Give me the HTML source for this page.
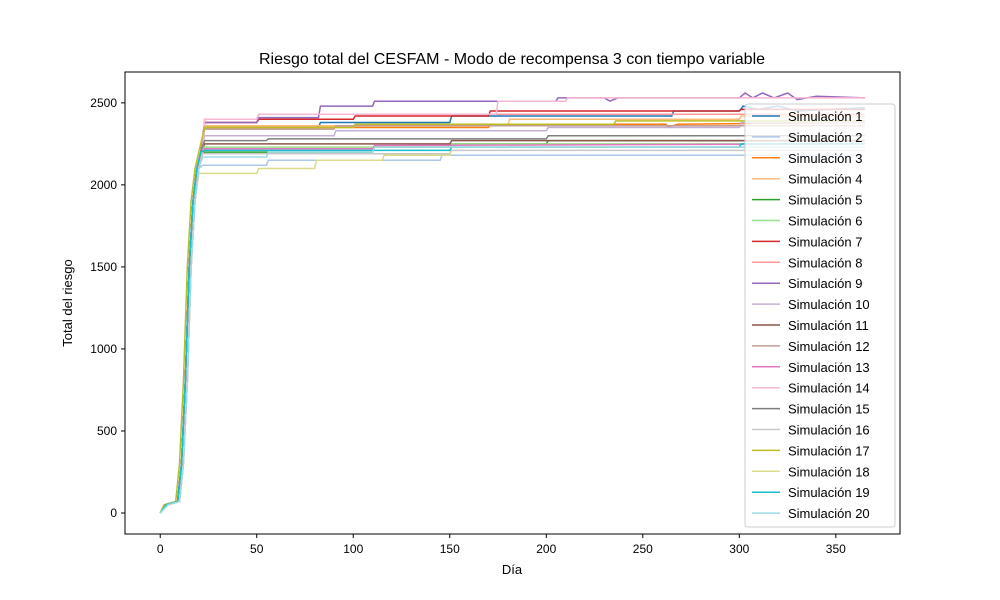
<!DOCTYPE html>
<html><head><meta charset="utf-8">
<style>
body{margin:0;background:#fff;}
svg{display:block;font-family:"Liberation Sans","DejaVu Sans",sans-serif;}
</style></head>
<body>
<svg id="chart" width="1000" height="600" viewBox="0 0 1000 600">
<rect width="1000" height="600" fill="#fff"/>
<text x="512" y="64" font-size="16" text-anchor="middle">Riesgo total del CESFAM - Modo de recompensa 3 con tiempo variable</text>
<g id="lines"></g>
<rect x="125" y="72" width="775" height="462" fill="none" stroke="#000" stroke-width="1"/>
<g id="xticks"></g>
<g id="yticks"></g>
<text x="512" y="574" font-size="13" text-anchor="middle">Día</text>
<text transform="translate(72,303) rotate(-90)" font-size="13" text-anchor="middle">Total del riesgo</text>
<g id="legend"></g>
</svg>
<script>
const xTicks=[0,50,100,150,200,250,300,350];
const yTicks=[0,500,1000,1500,2000,2500];
const seriesNames=["Simulación 1","Simulación 2","Simulación 3","Simulación 4","Simulación 5","Simulación 6","Simulación 7","Simulación 8","Simulación 9","Simulación 10","Simulación 11","Simulación 12","Simulación 13","Simulación 14","Simulación 15","Simulación 16","Simulación 17","Simulación 18","Simulación 19","Simulación 20"];
const colors=["#1f77b4","#aec7e8","#ff7f0e","#ffbb78","#2ca02c","#98df8a","#d62728","#ff9896","#9467bd","#c5b0d5","#8c564b","#c49c94","#e377c2","#f7b6d2","#7f7f7f","#c7c7c7","#bcbd22","#dbdb8d","#17becf","#9edae5"];
const rampDays=[0,3,9,11,13,15,17,19,21,23];
const rampVals=[0,50,70,300,800,1500,1900,2100,2200];
const s1=[[23,2350],[82,2350],[83,2380],[150,2380],[151,2420],[265,2420],[266,2450],[300,2450],[302,2480],[310,2460],[320,2480],[330,2450],[365,2470]];
const s2=[[23,2120],[55,2120],[56,2150],[145,2150],[146,2180],[365,2180]];
const s3=[[23,2350],[170,2350],[171,2370],[262,2370],[263,2350],[268,2370],[365,2380]];
const s4=[[23,2360],[180,2360],[181,2400],[300,2400],[301,2420],[365,2420]];
const s5=[[23,2200],[110,2200],[111,2230],[150,2230],[151,2250],[200,2250],[201,2270],[365,2270]];
const s6=[[23,2230],[150,2230],[151,2250],[365,2250]];
const s7=[[23,2380],[50,2380],[51,2400],[100,2400],[101,2420],[170,2420],[171,2450],[300,2450],[301,2460],[365,2460]];
const s8=[[23,2400],[50,2400],[51,2430],[365,2430]];
const s9=[[23,2380],[50,2380],[51,2410],[82,2410],[83,2480],[110,2480],[111,2510],[205,2510],[206,2530],[230,2530],[233,2510],[237,2530],[300,2530],[303,2560],[307,2530],[312,2560],[318,2530],[325,2560],[330,2520],[340,2540],[365,2530]];
const s10=[[23,2300],[90,2300],[91,2330],[200,2330],[201,2350],[300,2350],[301,2380],[365,2380]];
const s11=[[23,2250],[150,2250],[151,2270],[365,2270]];
const s12=[[23,2340],[90,2340],[91,2360],[365,2360]];
const s13=[[23,2220],[110,2220],[111,2240],[365,2250]];
const s14=[[23,2400],[50,2400],[51,2430],[174,2430],[175,2510],[210,2510],[211,2530],[365,2530]];
const s15=[[23,2270],[55,2270],[56,2280],[200,2280],[201,2300],[365,2300]];
const s16=[[23,2190],[150,2190],[151,2210],[365,2210]];
const s17=[[23,2350],[100,2350],[101,2370],[235,2370],[236,2390],[365,2390]];
const s18=[[23,2070],[50,2070],[51,2100],[80,2100],[81,2150],[115,2150],[116,2180],[150,2180],[151,2230],[365,2230]];
const s19=[[23,2210],[150,2210],[151,2230],[300,2230],[301,2250],[365,2250]];
const s20=[[23,2170],[55,2170],[56,2200],[110,2200],[111,2230],[365,2230]];
const plateaus=[s1,s2,s3,s4,s5,s6,s7,s8,s9,s10,s11,s12,s13,s14,s15,s16,s17,s18,s19,s20];
const rampShift=[0,1,0,1,0,0,0,1,0,0,0,0,0,1,0,1,-1,1,0,1];

const X0=125,X1=900,Y0=534,Y1=72,xmin=-18.25,xmax=383.25,ymin=-128,ymax=2688;
const xs=v=>X0+(v-xmin)/(xmax-xmin)*(X1-X0);
const ys=v=>Y0-(v-ymin)/(ymax-ymin)*(Y0-Y1);
const NS="http://www.w3.org/2000/svg";
const mk=(t,a)=>{const e=document.createElementNS(NS,t);for(const k in a)e.setAttribute(k,a[k]);return e;};

const gx=document.getElementById('xticks');
xTicks.forEach(t=>{
 const l=mk('line',{x1:xs(t),x2:xs(t),y1:534,y2:538,stroke:'#000'});
 
 
 gx.appendChild(l);
 const tx=mk('text',{x:xs(t),y:553,'font-size':12,'text-anchor':'middle'});
 
 
 tx.textContent=t;gx.appendChild(tx);
});
const gy=document.getElementById('yticks');
yTicks.forEach(t=>{
 const l=mk('line',{x1:121,x2:125,y1:ys(t),y2:ys(t),stroke:'#000'});
 
 
 gy.appendChild(l);
 const tx=mk('text',{x:117,y:ys(t)+4,'font-size':12,'text-anchor':'end'});
 
 
 tx.textContent=t;gy.appendChild(tx);
});
const gl=document.getElementById('lines');
plateaus.forEach((p,i)=>{
 const pts=[];
 const sh=rampShift[i];
 for(let k=0;k<rampVals.length;k++){pts.push([rampDays[k]+(k>0?sh:0),Math.min(rampVals[k],p[0][1])]);}
 p.forEach(q=>pts.push(q));
 const d=pts.map((q,k)=>(k?'L':'M')+xs(q[0]).toFixed(1)+' '+ys(q[1]).toFixed(1)).join(' ');
 const path=mk('path',{d:d,fill:'none',stroke:colors[i],'stroke-width':1.5});
 
 
 gl.appendChild(path);
});
const lg=document.getElementById('legend');
const box=mk('rect',{x:745,y:104,width:150,height:423,rx:3,fill:'#fff','fill-opacity':0.8,stroke:'#ccc'});


lg.appendChild(box);
seriesNames.forEach((n,i)=>{
 const y=116+i*20.9;
 const l=mk('line',{x1:752,x2:780,y1:y,y2:y,stroke:colors[i],'stroke-width':1.5});
 
 
 lg.appendChild(l);
 const t=mk('text',{x:788,y:y+5,'font-size':13});
 
 
 t.textContent=n;lg.appendChild(t);
});
</script>
</body></html>
